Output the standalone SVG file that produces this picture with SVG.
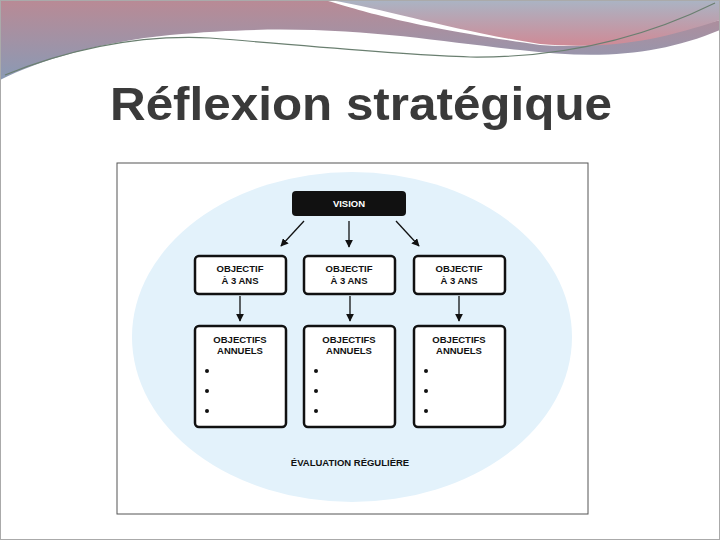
<svg xmlns="http://www.w3.org/2000/svg" width="720" height="540" viewBox="0 0 720 540">
<defs>
<linearGradient id="band" x1="0" y1="0" x2="0" y2="1"><stop offset="0" stop-color="#b98a95"/><stop offset="1" stop-color="#8a9ab5"/></linearGradient>
<linearGradient id="band2" x1="0" y1="0" x2="0" y2="1"><stop offset="0" stop-color="#aab4c4"/><stop offset="1" stop-color="#cf8a96"/></linearGradient>
<marker id="ah" viewBox="0 0 10 10" refX="9" refY="5" markerWidth="6" markerHeight="6" orient="auto"><path d="M0,0 L10,5 L0,10 z" fill="#111"/></marker>
<style>
.box{fill:#fff;stroke:#111;stroke-width:2.5}
.t{font-family:"Liberation Sans",Arial,sans-serif;font-weight:bold;font-size:9.5px;fill:#111;text-anchor:middle}
.c{stroke:#111;stroke-width:1.3;fill:none;marker-end:url(#ah)}
.dot{fill:#111}
</style>
</defs>
<rect width="720" height="540" fill="#fff"/>
<path d="M0,0 H325 C360,10 400,25 540,45 C600,50 660,35 720,20 V30 C660,55 600,60 520,50 C420,40 330,20 170,35 C100,42 40,60 0,80 Z" fill="url(#band)"/>
<path d="M330,0 H720 V20 C660,40 610,50 540,44 C450,30 390,10 330,0 Z" fill="url(#band2)"/>
<path d="M5,75 C80,45 150,35 210,38 C300,45 400,55 470,57 C560,58 640,40 715,3" stroke="#6a7f70" stroke-width="1.2" fill="none"/>
<rect x="0.5" y="0.5" width="719" height="539" fill="none" stroke="#aaa"/>
<text x="110" y="120" textLength="502" lengthAdjust="spacingAndGlyphs" font-family="Liberation Sans,Arial,sans-serif" font-weight="bold" font-size="47" fill="#3a3a3a">Réflexion stratégique</text>
<rect x="117" y="163" width="471" height="351" fill="#fff" stroke="#555"/>
<ellipse cx="352" cy="337" rx="220" ry="165" fill="#e3f2fb"/>
<g id="vision"><rect x="292" y="191" width="114" height="25" rx="4" fill="#111"/><text class="t" x="349" y="207" style="fill:#fff">VISION</text></g>
<g id="connectors">
<line class="c" x1="304" y1="221" x2="281" y2="246"/>
<line class="c" x1="349" y1="221" x2="349" y2="247"/>
<line class="c" x1="396" y1="221" x2="419" y2="246"/>
<line class="c" x1="240" y1="296" x2="240" y2="321"/>
<line class="c" x1="350" y1="296" x2="350" y2="321"/>
<line class="c" x1="459" y1="296" x2="459" y2="321"/>
</g>
<g id="obj1"><rect class="box" x="195" y="256" width="91" height="38" rx="4"/><text class="t" x="240" y="272">OBJECTIF</text><text class="t" x="240" y="284">À 3 ANS</text></g>
<g id="obj2"><rect class="box" x="304" y="256" width="91" height="38" rx="4"/><text class="t" x="349" y="272">OBJECTIF</text><text class="t" x="349" y="284">À 3 ANS</text></g>
<g id="obj3"><rect class="box" x="414" y="256" width="91" height="38" rx="4"/><text class="t" x="459" y="272">OBJECTIF</text><text class="t" x="459" y="284">À 3 ANS</text></g>
<g id="ann1"><rect class="box" x="195" y="326" width="91" height="101" rx="4"/><text class="t" x="240" y="343">OBJECTIFS</text><text class="t" x="240" y="354">ANNUELS</text><circle class="dot" cx="207" cy="371" r="2"/><circle class="dot" cx="207" cy="391" r="2"/><circle class="dot" cx="207" cy="411" r="2"/></g>
<g id="ann2"><rect class="box" x="304" y="326" width="91" height="101" rx="4"/><text class="t" x="349" y="343">OBJECTIFS</text><text class="t" x="349" y="354">ANNUELS</text><circle class="dot" cx="316" cy="371" r="2"/><circle class="dot" cx="316" cy="391" r="2"/><circle class="dot" cx="316" cy="411" r="2"/></g>
<g id="ann3"><rect class="box" x="414" y="326" width="91" height="101" rx="4"/><text class="t" x="459" y="343">OBJECTIFS</text><text class="t" x="459" y="354">ANNUELS</text><circle class="dot" cx="426" cy="371" r="2"/><circle class="dot" cx="426" cy="391" r="2"/><circle class="dot" cx="426" cy="411" r="2"/></g>
<g id="eval"><text class="t" x="350" y="466">ÉVALUATION RÉGULIÈRE</text></g>
</svg>
